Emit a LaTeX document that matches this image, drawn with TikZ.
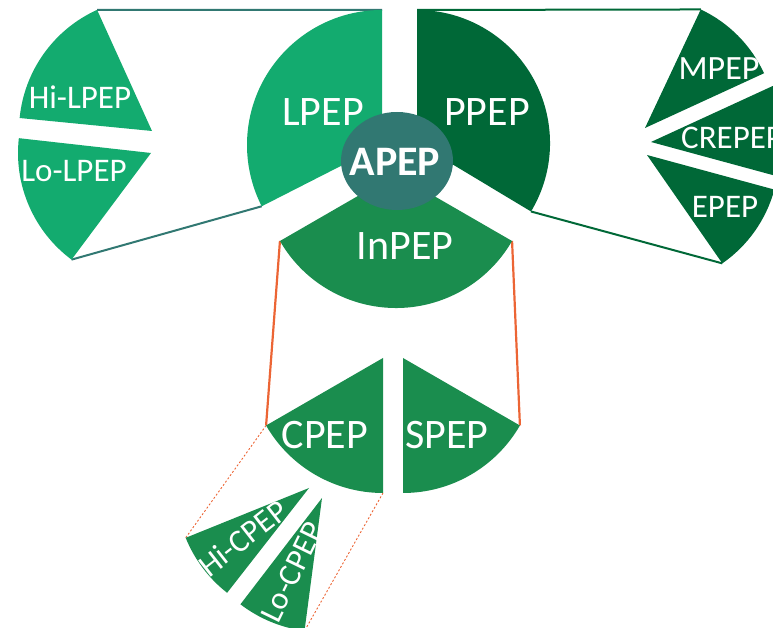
\documentclass[tikz,border=0pt]{standalone}
\usepackage{fontspec}
\setmainfont{Carlito}
\usetikzlibrary{calc}
\definecolor{lgreen}{HTML}{13AB6F}
\definecolor{dgreen}{HTML}{006837}
\definecolor{mgreen}{HTML}{1A8D4E}
\definecolor{apepcol}{HTML}{317872}
\definecolor{orng}{HTML}{EC6535}
\newcommand\pepsector[5]{\fill[#1] (#2) -- ($(#2)+(#4:#3pt)$) arc[start angle=#4,end angle=#5,radius=#3pt] -- cycle;}
\begin{document}
\begin{tikzpicture}[x=1pt,y=1pt,
  biglbl/.style={text=white,inner sep=0pt,font=\fontsize{42}{42}\selectfont},
  smalllbl/.style={text=white,inner sep=0pt,font=\fontsize{33}{33}\selectfont},
  tealline/.style={draw=apepcol,line width=2pt},
  darkline/.style={draw=dgreen,line width=2pt},
  orline/.style={draw=orng,line width=2.2pt},
  ordash/.style={draw=orng,line width=0.9pt,dash pattern=on 2pt off 2pt}]
\useasboundingbox (0,0) rectangle (773,628);
\clip (0,0) rectangle (773,628);
% sector centres
\coordinate (lpC) at (382,483);
\coordinate (ppC) at (417,485);
\coordinate (inC) at (396,454);
\coordinate (hlC) at (152,497);
\coordinate (llC) at (151,475);
\coordinate (mpC) at (645,500);
\coordinate (crC) at (651,486);
\coordinate (epC) at (647,473);
\coordinate (cpC) at (383,270);
\coordinate (spC) at (403,270);
\coordinate (hcC) at (309,140);
\coordinate (lcC) at (322,130);
% corner points
\coordinate (lpTop) at ($(lpC)+(90:135pt)$);
\coordinate (lpLow) at ($(lpC)+(207:135pt)$);
\coordinate (hlTop) at ($(hlC)+(114.4:133pt)$);
\coordinate (llLow) at ($(llC)+(233.3:133pt)$);
\coordinate (ppTop) at ($(ppC)+(90:133pt)$);
\coordinate (ppLow) at ($(ppC)+(-31:133pt)$);
\coordinate (mpTop) at ($(mpC)+(64.8:131pt)$);
\coordinate (epLow) at ($(epC)+(-55.2:132pt)$);
\coordinate (inL) at ($(inC)+(210:134pt)$);
\coordinate (inR) at ($(inC)+(330:134pt)$);
\coordinate (cpL) at ($(cpC)+(210:135pt)$);
\coordinate (cpB) at ($(cpC)+(270:135pt)$);
\coordinate (spR) at ($(spC)+(330:135pt)$);
\coordinate (hcL) at ($(hcC)+(202:133pt)$);
\coordinate (lcR) at ($(lcC)+(262.5:134pt)$);
% connectors
\draw[tealline] (lpTop) -- (hlTop);
\draw[tealline] (lpLow) -- (llLow);
\draw[darkline] (ppTop) -- (mpTop);
\draw[darkline] (ppLow) -- (epLow);
\draw[orline] (inL) -- (cpL);
\draw[orline] (inR) -- (spR);
\draw[ordash] (cpL) -- (hcL);
\draw[ordash] (cpB) -- (lcR);
% sectors
\pepsector{lgreen}{lpC}{135}{90}{207}
\pepsector{dgreen}{ppC}{133}{-31}{90}
\pepsector{mgreen}{inC}{134}{210}{330}
\pepsector{lgreen}{hlC}{133}{114.4}{174.4}
\pepsector{lgreen}{llC}{133}{173.6}{233.3}
\pepsector{dgreen}{mpC}{131}{24.7}{64.8}
\pepsector{dgreen}{crC}{134}{-15.2}{24.7}
\pepsector{dgreen}{epC}{132}{-55.2}{-15.2}
\pepsector{mgreen}{cpC}{135}{210}{270}
\pepsector{mgreen}{spC}{135}{270}{330}
\pepsector{mgreen}{hcC}{133}{202}{232}
\pepsector{mgreen}{lcC}{134}{232.5}{262.5}
% centre
\fill[apepcol] (397,467) ellipse[x radius=56pt,y radius=49pt];
\node[biglbl,font=\fontsize{42}{42}\selectfont\bfseries] (apep) at (395,466) {APEP};
% labels
\node[biglbl] (lpep) at (323,516) {LPEP};
\node[biglbl] (ppep) at (487,516) {PPEP};
\node[biglbl] (inpep) at (405,382) {InPEP};
\node[biglbl] (cpep) at (325,193) {CPEP};
\node[biglbl] (spep) at (447,193) {SPEP};
\node[smalllbl] (hilpep) at (80,531) {Hi-LPEP};
\node[smalllbl] (lolpep) at (74,457) {Lo-LPEP};
\node[smalllbl,font=\fontsize{34}{34}\selectfont] (mpep) at (719,559) {MPEP};
\node[smalllbl,anchor=west] (crepep) at (681,490) {CREPEP};
\node[smalllbl] (epep) at (725,421) {EPEP};
\node[smalllbl,font=\fontsize{32}{32}\selectfont,rotate=38] (hicpep) at (243,90) {Hi-CPEP};
\node[smalllbl,font=\fontsize{32}{32}\selectfont,rotate=64] (locpep) at (292,56) {Lo-CPEP};
\end{tikzpicture}
\end{document}
